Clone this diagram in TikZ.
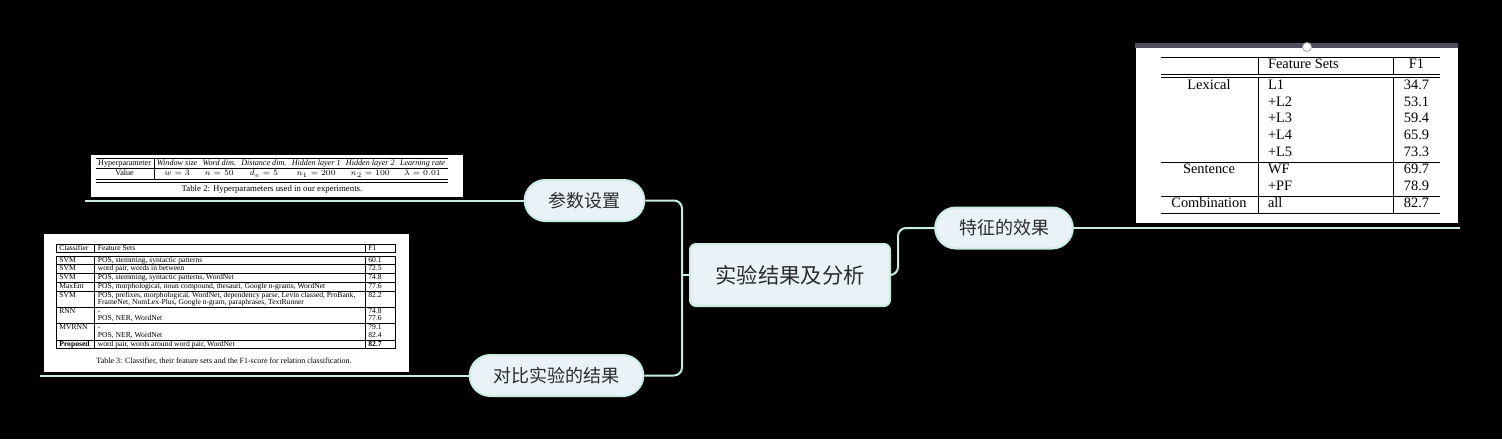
\documentclass[tikz,border=0pt]{standalone}
\usepackage{fontspec}
\setmainfont{Liberation Serif}
\newfontfamily\cjk{Noto Sans CJK SC}
\usepackage{array}
\newcolumntype{C}[1]{>{\centering\arraybackslash}p{#1}}
\newcolumntype{L}[1]{>{\raggedright\arraybackslash}p{#1}}

\definecolor{mapline}{HTML}{C9EDE4}
\definecolor{mapfill}{HTML}{E9F3F7}
\definecolor{maptext}{HTML}{2B2B2B}
\definecolor{imgbar}{HTML}{4F4D5F}

\tikzset{every picture/.style={line width=0.75pt}}
\tikzset{
  topic/.style={draw=mapline, fill=mapfill, line width=1.5pt, rounded corners=4.5pt,
    minimum width=150pt, minimum height=46.5pt, inner sep=0pt,
    text=maptext, font=\cjk\fontsize{16}{18}\selectfont},
  branch/.style={draw=mapline, fill=mapfill, line width=1.5pt, rounded corners=15.5pt,
    minimum height=30.75pt, inner xsep=17.9pt, inner ysep=0pt,
    text=maptext, font=\cjk\fontsize{13.5}{15}\selectfont},
  link/.style={draw=mapline, line width=1.5pt, rounded corners=6pt},
  snapshot/.style={fill=white, draw=none, anchor=north west, inner sep=0pt},
  tabnode/.style={anchor=north west, inner sep=0pt}
}

\begin{document}
\begin{tikzpicture}[x=0.75pt,y=0.75pt,yscale=-1,xscale=1]
%Shape: Background
\fill[black] (0,0) rectangle (1502,439);

%Shape: Image 1 (hyperparameters)
\node[snapshot, minimum width=279pt, minimum height=32pt] (hyperImg) at (90,154) {};
% Table Node
\node[tabnode, font=\fontsize{6.1}{7.4}\selectfont] (hyperTab) at (95,157.5) {%
\setlength\tabcolsep{2pt}%
\begin{tabular}{c|cccccc}
\hline
Hyperparameter & \textit{Window size} & \textit{Word dim.} & \textit{Distance dim.} & \textit{Hidden layer 1} & \textit{Hidden layer 2} & \textit{Learning rate} \\ \hline
Value & $w=3$ & $n=50$ & $d_e=5$ & $n_1=200$ & $n_2=100$ & $\lambda=0.01$ \\ \hline\hline
\end{tabular}};
% Text Node
\node[font=\fontsize{6.6}{8}\selectfont] (hyperCap) at (272,189.5) {Table 2: Hyperparameters used in our experiments.};

%Shape: Image 2 (classifiers)
\node[snapshot, minimum width=273.75pt, minimum height=103.9pt] (clsImg) at (43,233) {};
% Table Node
\node[tabnode, font=\fontsize{5.7}{5.6}\selectfont] (clsTab) at (55,243) {%
\setlength\tabcolsep{2.5pt}\setlength\extrarowheight{0.6pt}%
\begin{tabular}{|L{23.5pt}|L{197.5pt}|L{17.5pt}|}
\hline
Classifier & Feature Sets & F1 \\ \hline\hline
SVM & POS, stemming, syntactic patterns & 60.1 \\ \hline
SVM & word pair, words in between & 72.5 \\ \hline
SVM & POS, stemming, syntactic patterns, WordNet & 74.8 \\ \hline
MaxEnt & POS, morphological, noun compound, thesauri, Google n-grams, WordNet & 77.6 \\ \hline
SVM & \mbox{POS, prefixes, morphological, WordNet, dependency parse, Levin classed, ProBank,}\newline FrameNet, NomLex-Plus, Google n-gram, paraphrases, TextRunner & 82.2 \\ \hline
RNN & -\newline POS, NER, WordNet & 74.8\newline 77.6 \\ \hline
MVRNN & -\newline POS, NER, WordNet & 79.1\newline 82.4 \\ \hline
\textbf{Proposed} & word pair, words around word pair, WordNet & \textbf{82.7} \\ \hline
\end{tabular}};
% Text Node
\node[font=\fontsize{6}{7}\selectfont] (clsCap) at (224,361.7) {Table 3: Classifier, their feature sets and the F1-score for relation classification.};

%Shape: Image 3 (feature sets)
\node[snapshot, minimum width=241.5pt, minimum height=134.25pt] (featImg) at (1135,43) {};
\fill[imgbar] (featImg.north west) rectangle ([yshift=3.75pt]featImg.north east);
\draw[fill=white, draw=gray!70, line width=0.6pt] (1307,47) circle (4.5);
% Table Node
\node[tabnode, font=\fontsize{10.8}{12.6}\selectfont] (featTab) at (1160,56) {%
\setlength\tabcolsep{7.5pt}%
\begin{tabular}{C{57.75pt}|L{86.25pt}|C{19.5pt}}
\hline
 & Feature Sets & F1 \\ \hline\hline
Lexical & L1 & 34.7 \\
 & +L2 & 53.1 \\
 & +L3 & 59.4 \\
 & +L4 & 65.9 \\
 & +L5 & 73.3 \\ \hline
Sentence & WF & 69.7 \\
 & +PF & 78.9 \\ \hline
Combination & all & 82.7 \\ \hline
\end{tabular}};

% Topic Nodes
\node[topic] (main) at (790,275) {实验结果及分析};
\node[branch] (param) at (584.5,200.5) {参数设置};
\node[branch] (compare) at (556.5,375.5) {对比实验的结果};
\node[branch] (feature) at (1004,228) {特征的效果};

\coordinate (paramEnd) at (85,200.5);
\coordinate (compareEnd) at (40,375.5);
\coordinate (featureEnd) at (1460,228);

%Straight Lines
\draw[link] (param.east) -| ([xshift=-5.25pt]main.west) |- (compare.east);
\draw[link] (main.west) -- ++(-7,0);
\draw[link] (main.east) -- ++(7,0) |- (feature.west);
\draw[link] (param.west) -- (paramEnd);
\draw[link] (compare.west) -- (compareEnd);
\draw[link] (feature.east) -- (featureEnd);

\end{tikzpicture}
\end{document}
